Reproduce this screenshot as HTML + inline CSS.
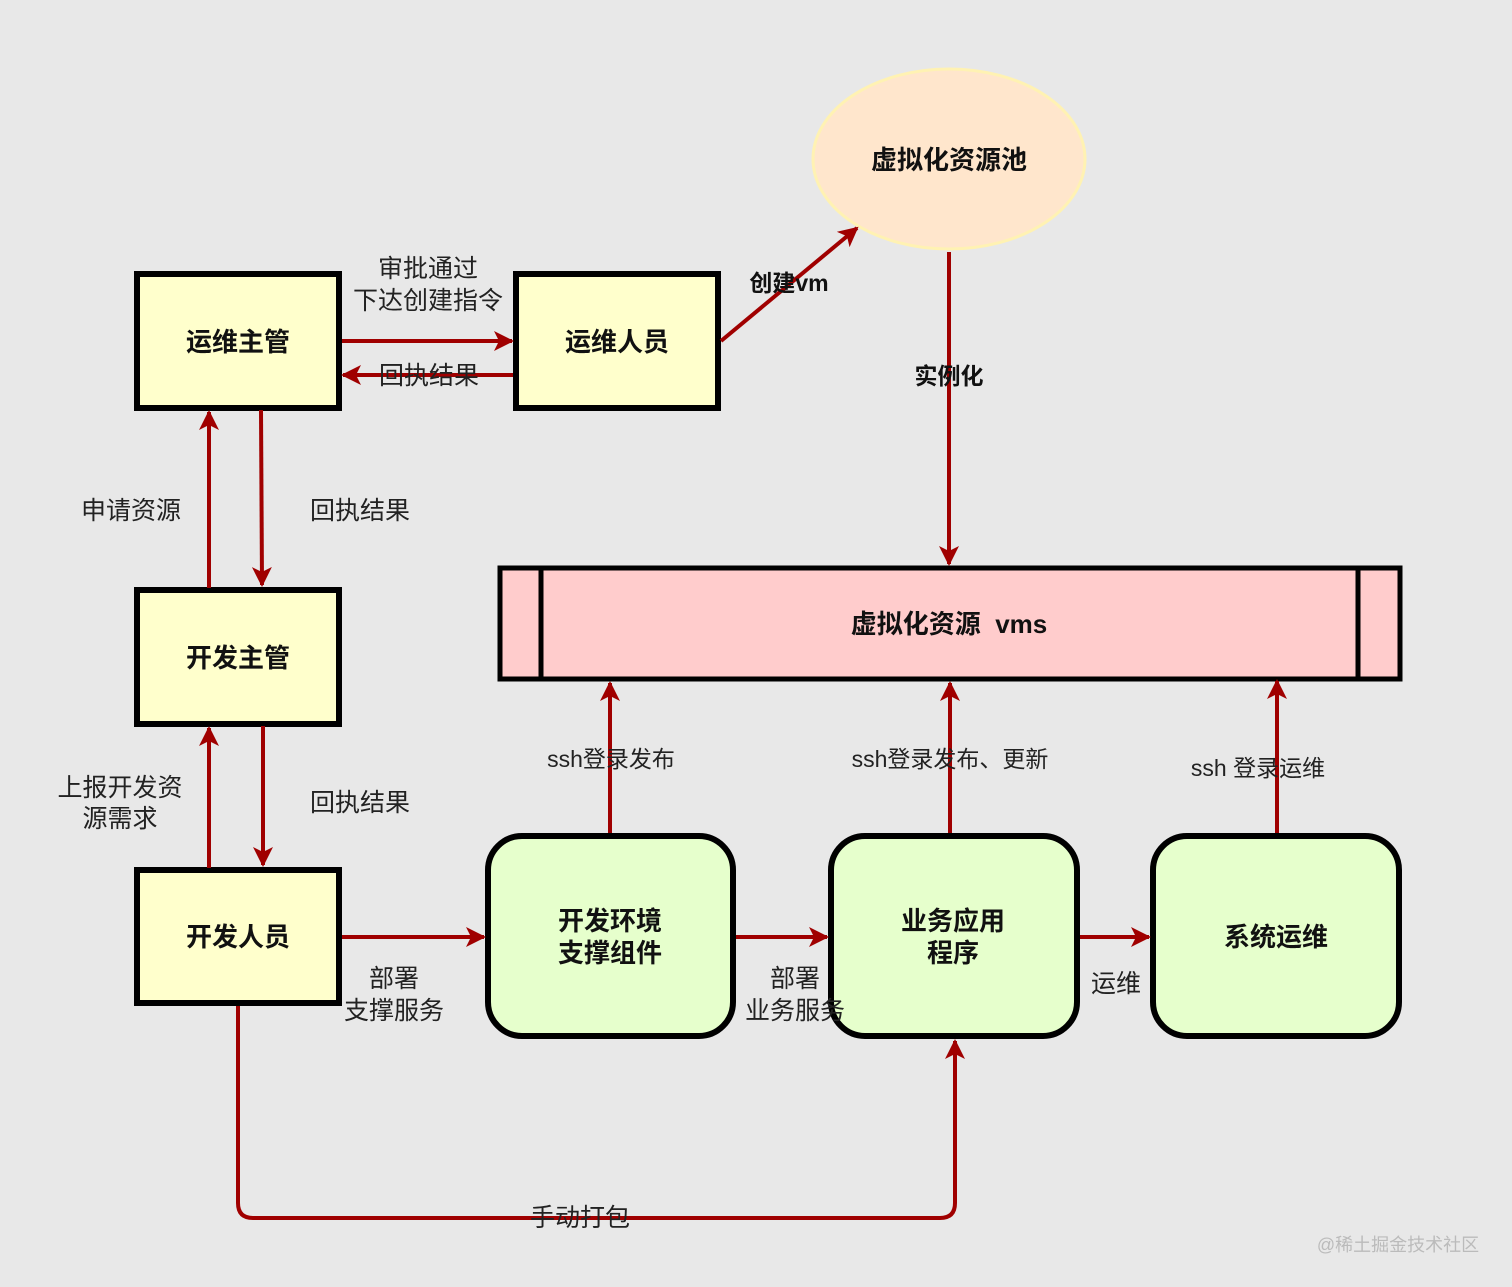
<!DOCTYPE html>
<html><head><meta charset="utf-8"><style>
body{margin:0;background:#e8e8e8}
svg{display:block}
text{font-family:"Liberation Sans","Noto Sans CJK SC",sans-serif;fill:#111}
.b{font-weight:bold;font-size:26px}
.l{font-size:25px;fill:#222}
</style></head><body>
<svg width="1512" height="1287" viewBox="0 0 1512 1287" xmlns="http://www.w3.org/2000/svg">
<defs>
<marker id="a" viewBox="0 0 20 20" refX="18" refY="10" markerWidth="20" markerHeight="20" markerUnits="userSpaceOnUse" orient="auto">
<path d="M0,0 L20,10 L0,20 L5,10 Z" fill="#a00000"/>
</marker>
</defs>
<rect width="1512" height="1287" fill="#e8e8e8"/>
<ellipse cx="949" cy="159" rx="136" ry="90" fill="#ffe6cc" stroke="#fff2b3" stroke-width="3"/>
<text class="b" x="949" y="169" text-anchor="middle">虚拟化资源池</text>

<g stroke="#000" stroke-width="6" fill="#ffffcc">
<rect x="137" y="274" width="202" height="134"/>
<rect x="516" y="274" width="202" height="134"/>
<rect x="137" y="590" width="202" height="134"/>
<rect x="137" y="870" width="202" height="133"/>
</g>
<g stroke="#000" stroke-width="6" fill="#e6ffcc">
<rect x="488" y="836" width="245" height="200" rx="34"/>
<rect x="831" y="836" width="246" height="200" rx="34"/>
<rect x="1153" y="836" width="246" height="200" rx="34"/>
</g>
<rect x="500" y="568" width="900" height="111" fill="#ffcccc" stroke="#000" stroke-width="5"/>
<line x1="541" y1="568" x2="541" y2="679" stroke="#000" stroke-width="5"/>
<line x1="1358" y1="568" x2="1358" y2="679" stroke="#000" stroke-width="5"/>

<g stroke="#a00000" stroke-width="4" fill="none">
<line x1="342" y1="341" x2="512" y2="341" marker-end="url(#a)"/>
<line x1="513" y1="375" x2="343" y2="375" marker-end="url(#a)"/>
<line x1="721" y1="341" x2="857" y2="228" marker-end="url(#a)"/>
<line x1="949" y1="252" x2="949" y2="564" marker-end="url(#a)"/>
<line x1="209" y1="588" x2="209" y2="412" marker-end="url(#a)"/>
<line x1="261" y1="410" x2="262" y2="585" marker-end="url(#a)"/>
<line x1="209" y1="868" x2="209" y2="728" marker-end="url(#a)"/>
<line x1="263" y1="726" x2="263" y2="865" marker-end="url(#a)"/>
<line x1="342" y1="937" x2="484" y2="937" marker-end="url(#a)"/>
<line x1="736" y1="937" x2="827" y2="937" marker-end="url(#a)"/>
<line x1="1080" y1="937" x2="1149" y2="937" marker-end="url(#a)"/>
<line x1="610" y1="833" x2="610" y2="683" marker-end="url(#a)"/>
<line x1="950" y1="833" x2="950" y2="683" marker-end="url(#a)"/>
<line x1="1277" y1="833" x2="1277" y2="681" marker-end="url(#a)"/>
<path d="M238,1006 L238,1203 Q238,1218 253,1218 L940,1218 Q955,1218 955,1203 L955,1041" marker-end="url(#a)"/>
</g>

<text class="b" x="238" y="351" text-anchor="middle">运维主管</text>
<text class="b" x="617" y="351" text-anchor="middle">运维人员</text>
<text class="b" x="238" y="667" text-anchor="middle">开发主管</text>
<text class="b" x="238" y="946" text-anchor="middle">开发人员</text>
<text class="b" x="610" y="930" text-anchor="middle">开发环境</text>
<text class="b" x="610" y="962" text-anchor="middle">支撑组件</text>
<text class="b" x="953" y="930" text-anchor="middle">业务应用</text>
<text class="b" x="953" y="962" text-anchor="middle">程序</text>
<text class="b" x="1276" y="946" text-anchor="middle">系统运维</text>
<text class="b" x="949" y="633" text-anchor="middle">虚拟化资源 &#160;vms</text>
<text class="b" x="789" y="291" text-anchor="middle" style="font-size:23px">创建vm</text>
<text class="b" x="949" y="384" text-anchor="middle" style="font-size:23px">实例化</text>

<text class="l" x="428" y="277" text-anchor="middle">审批通过</text>
<text class="l" x="428" y="309" text-anchor="middle">下达创建指令</text>
<text class="l" x="429" y="384" text-anchor="middle">回执结果</text>
<text class="l" x="131" y="519" text-anchor="middle">申请资源</text>
<text class="l" x="360" y="519" text-anchor="middle">回执结果</text>
<text class="l" x="120" y="796" text-anchor="middle">上报开发资</text>
<text class="l" x="120" y="827" text-anchor="middle">源需求</text>
<text class="l" x="360" y="811" text-anchor="middle">回执结果</text>
<text class="l" x="394" y="987" text-anchor="middle">部署</text>
<text class="l" x="394" y="1019" text-anchor="middle">支撑服务</text>
<text class="l" x="795" y="987" text-anchor="middle">部署</text>
<text class="l" x="795" y="1019" text-anchor="middle">业务服务</text>
<text class="l" x="1116" y="992" text-anchor="middle">运维</text>
<text class="l" x="611" y="767" text-anchor="middle" style="font-size:23px">ssh登录发布</text>
<text class="l" x="950" y="767" text-anchor="middle" style="font-size:23px">ssh登录发布、更新</text>
<text class="l" x="1258" y="776" text-anchor="middle" style="font-size:23px">ssh 登录运维</text>
<text class="l" x="580" y="1226" text-anchor="middle">手动打包</text>
<text x="1398" y="1251" text-anchor="middle" style="font-size:18px;fill:#bbb">@稀土掘金技术社区</text>
</svg>
</body></html>
